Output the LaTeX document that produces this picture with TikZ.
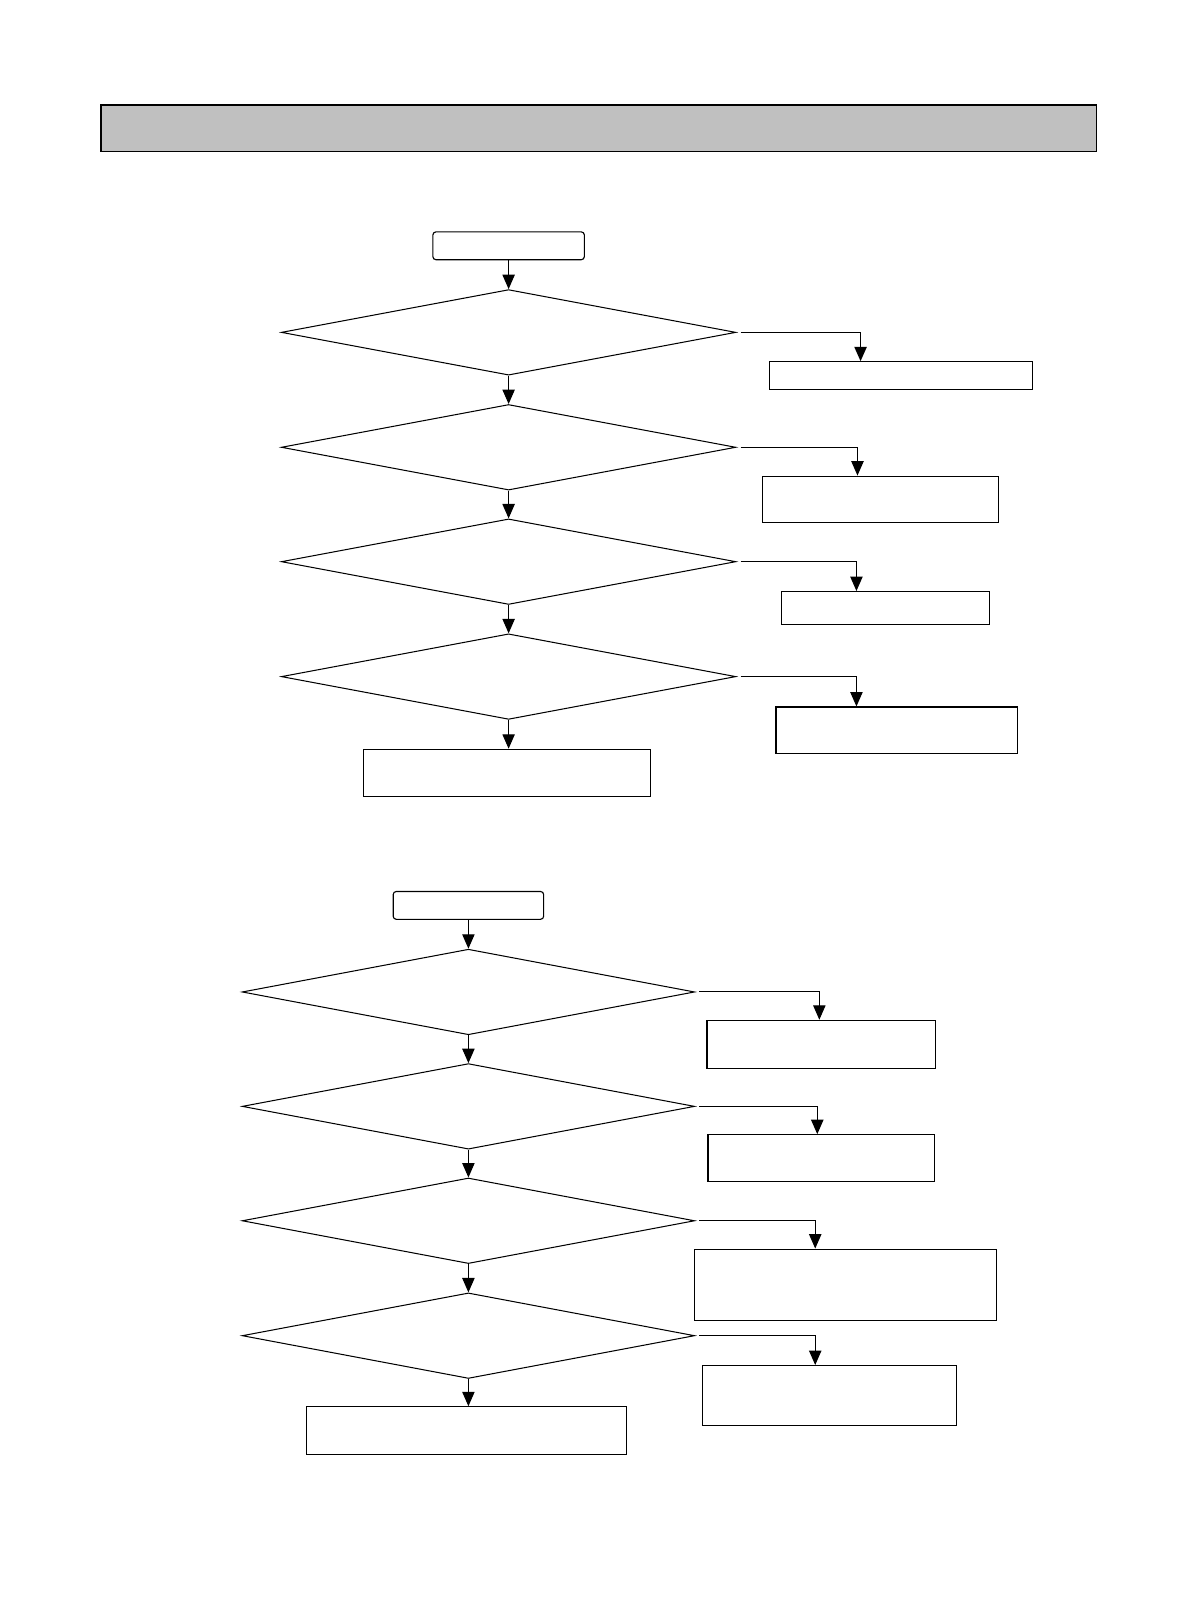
\documentclass[tikz,border=0pt]{standalone}
\usetikzlibrary{shapes.geometric,arrows.meta}
\definecolor{hdrgray}{RGB}{192,192,192}
\begin{document}
\begin{tikzpicture}[x=1pt,y=-1pt,
  box/.style={draw,rectangle,line width=1.1pt,inner sep=0pt,fill=white},
  startbox/.style={draw,rectangle,rounded corners=3pt,line width=1.1pt,inner sep=0pt},
  decide/.style={draw,diamond,line width=1pt,inner sep=0pt,minimum width=441pt,minimum height=83pt},
  arr/.style={line width=1pt,-{Triangle[width=12pt,length=14pt]}},
  side/.style={arr,shorten <=4pt}]
\useasboundingbox (0,0) rectangle (1157,1568);
\node[box,fill=hdrgray,line width=1.6pt,minimum width=966pt,minimum height=45pt] (hdr) at (581,124.5) {};
% first chart
\node[startbox,minimum width=147pt,minimum height=27pt] (s1) at (493.5,238.5) {};
\node[decide] (d1) at (493.5,322.5) {};
\node[decide] (d2) at (493.5,434) {};
\node[decide] (d3) at (493.5,545) {};
\node[decide] (d4) at (493.5,656.5) {};
\node[box,minimum width=278pt,minimum height=46pt] (b1) at (492,750) {};
\node[box,minimum width=255pt,minimum height=27pt] (r1) at (874.5,364.5) {};
\node[box,minimum width=229pt,minimum height=45pt] (r2) at (854.5,484.5) {};
\node[box,minimum width=202pt,minimum height=32pt] (r3) at (859,590) {};
\node[box,minimum width=234pt,minimum height=45pt] (r4) at (870,708.5) {};
\draw[arr] (s1.south) -- (s1.south |- d1.north);
\draw[arr] (d1.south) -- (d2.north);
\draw[arr] (d2.south) -- (d3.north);
\draw[arr] (d3.south) -- (d4.north);
\draw[arr] (d4.south) -- (d4.south |- b1.north);
\draw[side,line width=1.5pt] (d1.east) -| (835,0 |- r1.north);
\draw[side] (d2.east) -| (832,0 |- r2.north);
\draw[side] (d3.east) -| (831,0 |- r3.north);
\draw[side] (d4.east) -| (831,0 |- r4.north);
% second chart
\node[startbox,minimum width=146pt,minimum height=27pt] (s2) at (454.5,878.5) {};
\node[decide,minimum width=439pt] (e1) at (454.5,962.5) {};
\node[decide,minimum width=439pt] (e2) at (454.5,1073.5) {};
\node[decide,minimum width=439pt] (e3) at (454.5,1184.5) {};
\node[decide,minimum width=439pt] (e4) at (454.5,1296) {};
\node[box,minimum width=311pt,minimum height=46pt] (b2) at (452.5,1388) {};
\node[box,minimum width=222pt,minimum height=47pt] (r5) at (797,1013.5) {};
\node[box,minimum width=220pt,minimum height=45pt] (r6) at (797,1123.5) {};
\node[box,minimum width=293pt,minimum height=69pt] (r7) at (820.5,1246.5) {};
\node[box,minimum width=246pt,minimum height=58pt] (r8) at (805,1354) {};
\draw[arr] (s2.south) -- (s2.south |- e1.north);
\draw[arr] (e1.south) -- (e2.north);
\draw[arr] (e2.south) -- (e3.north);
\draw[arr] (e3.south) -- (e4.north);
\draw[arr] (e4.south) -- (e4.south |- b2.north);
\draw[side] (e1.east) -| (795,0 |- r5.north);
\draw[side] (e2.east) -| (793,0 |- r6.north);
\draw[side] (e3.east) -| (791,0 |- r7.north);
\draw[side] (e4.east) -| (791,0 |- r8.north);
\end{tikzpicture}
\end{document}
